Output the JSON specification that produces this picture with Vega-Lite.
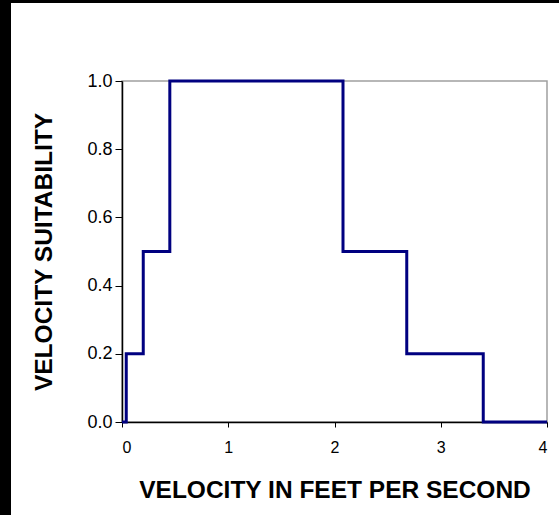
{
  "$schema": "https://vega.github.io/schema/vega-lite/v6.json",
  "background": "white",
  "padding": 0,
  "spacing": 0,
  "config": {
    "font": "Liberation Sans",
    "concat": {"spacing": 0}
  },
  "vconcat": [
    {
      "data": {"values": []},
      "mark": "point",
      "width": 559,
      "height": 3,
      "view": {"fill": "black", "stroke": null}
    },
    {
      "spacing": 20,
      "hconcat": [
        {
          "data": {"values": []},
          "mark": "point",
          "width": 11,
          "height": 512,
          "view": {"fill": "black", "stroke": null}
        },
        {
          "spacing": 0,
          "vconcat": [
            {
              "data": {"values": []},
              "mark": "point",
              "width": 425,
              "height": 68,
              "view": {"fill": null, "stroke": null}
            },
            {
              "width": 425,
              "height": 341,
              "view": {"stroke": "#a0a0a0", "strokeWidth": 1.5, "fill": "white"},
              "data": {
                "values": [
                  {"velocity": 0, "suitability": 0},
                  {"velocity": 0.04, "suitability": 0},
                  {"velocity": 0.04, "suitability": 0.2},
                  {"velocity": 0.2, "suitability": 0.2},
                  {"velocity": 0.2, "suitability": 0.5},
                  {"velocity": 0.45, "suitability": 0.5},
                  {"velocity": 0.45, "suitability": 1},
                  {"velocity": 2.08, "suitability": 1},
                  {"velocity": 2.08, "suitability": 0.5},
                  {"velocity": 2.68, "suitability": 0.5},
                  {"velocity": 2.68, "suitability": 0.2},
                  {"velocity": 3.4, "suitability": 0.2},
                  {"velocity": 3.4, "suitability": 0},
                  {"velocity": 4, "suitability": 0}
                ]
              },
              "mark": {"type": "line", "color": "#000080", "strokeWidth": 3, "strokeJoin": "miter", "clip": false},
              "encoding": {
                "x": {
                  "field": "velocity",
                  "type": "quantitative",
                  "sort": null,
                  "scale": {"domain": [0, 4], "nice": false, "zero": false},
                  "axis": {
                    "title": "VELOCITY IN FEET PER SECOND",
                    "values": [0, 1, 2, 3, 4],
                    "format": "d",
                    "grid": false,
                    "domainColor": "black",
                    "domainWidth": 1.5,
                    "tickColor": "black",
                    "tickSize": 5,
                    "tickWidth": 1,
                    "labelFontSize": 16,
                    "labelColor": "black",
                    "labelPadding": 12,
                    "labelFont": "Liberation Sans",
                    "titleFont": "Liberation Sans",
                    "titleFontSize": 24.5,
                    "titleFontWeight": "bold",
                    "titleColor": "black",
                    "titlePadding": 23
                  }
                },
                "y": {
                  "field": "suitability",
                  "type": "quantitative",
                  "scale": {"domain": [0, 1], "nice": false},
                  "axis": {
                    "title": "VELOCITY SUITABILITY",
                    "values": [0, 0.2, 0.4, 0.6, 0.8, 1],
                    "format": ".1f",
                    "grid": false,
                    "domainColor": "black",
                    "domainWidth": 1.5,
                    "tickColor": "black",
                    "tickSize": 7,
                    "tickWidth": 1,
                    "labelFontSize": 18,
                    "labelColor": "black",
                    "labelPadding": 3,
                    "labelFont": "Liberation Sans",
                    "titleFont": "Liberation Sans",
                    "titleFontSize": 24.5,
                    "titleFontWeight": "bold",
                    "titleColor": "black",
                    "titlePadding": 30
                  }
                }
              }
            }
          ]
        }
      ]
    }
  ]
}
